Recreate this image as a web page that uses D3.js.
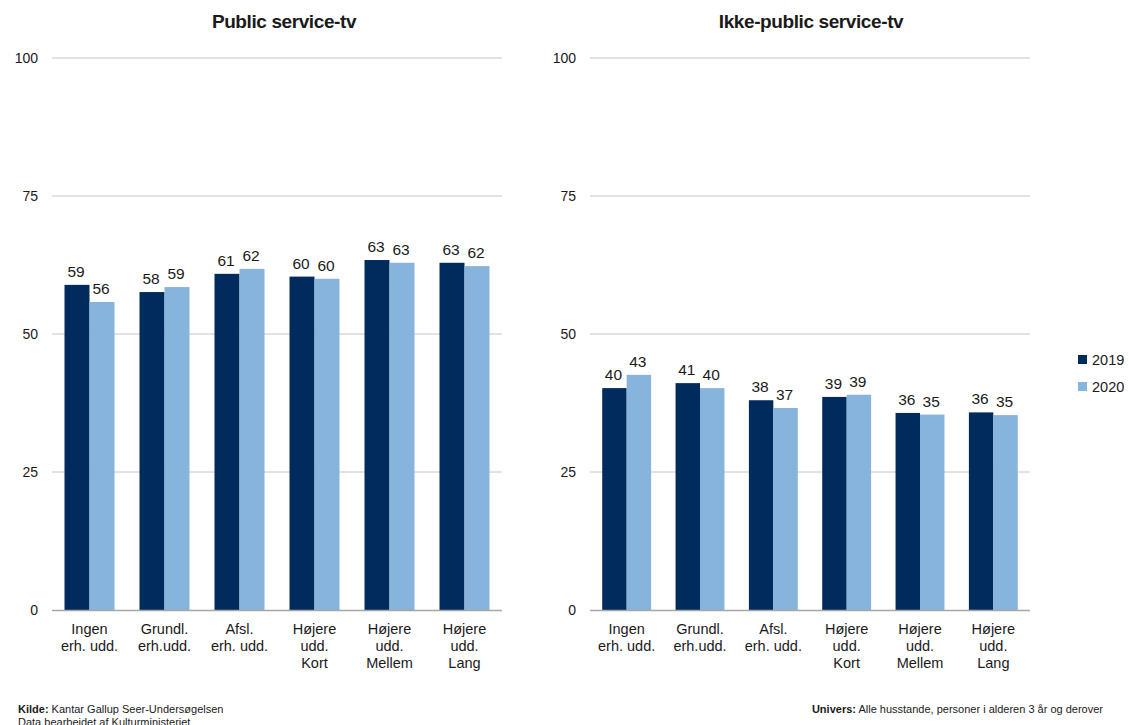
<!DOCTYPE html>
<html>
<head>
<meta charset="utf-8">
<script src="https://d3js.org/d3.v7.min.js"></script>
<style>
	body { margin: 0; background: #fff; }
	text { font-family: "Liberation Sans", Arial, sans-serif; fill: #1a1a1a; }
</style>
</head>
<body>
<svg id="chart" width="1129" height="725"></svg>
<script>
	// data
	var categories = [
		["Ingen", "erh. udd."],
		["Grundl.", "erh.udd."],
		["Afsl.", "erh. udd."],
		["Højere", "udd.", "Kort"],
		["Højere", "udd.", "Mellem"],
		["Højere", "udd.", "Lang"]
	];
	var years = ["2019", "2020"];
	var publicTv2019 = [58.9, 57.6, 60.9, 60.4, 63.4, 62.9];
	var publicTv2020 = [55.8, 58.5, 61.8, 60.0, 62.9, 62.3];
	var otherTv2019 = [40.2, 41.1, 38.0, 38.6, 35.7, 35.8];
	var otherTv2020 = [42.6, 40.2, 36.6, 39.0, 35.4, 35.3];
	var yTicks = [0, 25, 50, 75, 100];

	var colors = { "2019": "#002b5c", "2020": "#86b4dd" };
	var svg = d3.select("#chart");

	function panel(title, titleX, x0, x1, s2019, s2020) {
		var top = 58, bottom = 610;
		var y = d3.scaleLinear().domain([0, 100]).range([bottom, top]);
		var x = d3.scaleBand().domain(d3.range(categories.length))
			.range([x0, x1]).paddingInner(1 / 3).paddingOuter(1 / 6);
		var xs = d3.scaleBand().domain(years).range([0, x.bandwidth()]);
		var g = svg.append("g");

		// title
		g.append("text")
			.attr("x", titleX).attr("y", 28)
			.attr("text-anchor", "middle")
			.style("font-size", "19px").style("font-weight", "bold")
			.style("letter-spacing", "-0.4px")
			.text(title);

		// gridlines
		g.selectAll(".grid").data(yTicks.filter(function (d) { return d > 0; }))
			.enter().append("line")
			.attr("x1", x0).attr("x2", x1)
			.attr("y1", function (d) { return y(d); })
			.attr("y2", function (d) { return y(d); })
			.attr("stroke", "#c6c6c6").attr("stroke-width", 1);

		// y labels
		g.selectAll(".yl").data(yTicks).enter().append("text")
			.attr("x", x0 - 14).attr("y", function (d) { return y(d) + 5; })
			.attr("text-anchor", "end")
			.style("font-size", "14px")
			.text(function (d) { return d; });

		var rows = [];
		categories.forEach(function (c, i) {
			rows.push({ i: i, year: "2019", v: s2019[i] });
			rows.push({ i: i, year: "2020", v: s2020[i] });
		});

		g.selectAll(".bar").data(rows).enter().append("rect")
			.attr("x", function (d) { return x(d.i) + xs(d.year); })
			.attr("width", xs.bandwidth())
			.attr("y", function (d) { return y(d.v); })
			.attr("height", function (d) { return y(0) - y(d.v); })
			.attr("fill", function (d) { return colors[d.year]; });

		g.selectAll(".lbl").data(rows).enter().append("text")
			.attr("x", function (d) { return x(d.i) + xs(d.year) + xs.bandwidth() / 2 - 1; })
			.attr("y", function (d) { return y(d.v) - 8; })
			.attr("text-anchor", "middle")
			.style("font-size", "15.5px")
			.text(function (d) { return Math.round(d.v); });

		// baseline
		g.append("line")
			.attr("x1", x0).attr("x2", x1)
			.attr("y1", y(0) + 0.5).attr("y2", y(0) + 0.5)
			.attr("stroke", "#a6a6a6").attr("stroke-width", 1.5);

		// category labels
		categories.forEach(function (c, i) {
			var t = g.append("text")
				.attr("x", x(i) + x.bandwidth() / 2)
				.attr("y", y(0) + 24)
				.attr("text-anchor", "middle")
				.style("font-size", "14.5px");
			c.forEach(function (line, k) {
				t.append("tspan")
					.attr("x", x(i) + x.bandwidth() / 2)
					.attr("dy", k === 0 ? 0 : 17)
					.text(line);
			});
		});
	}

	panel("Public service-tv", 284, 52, 502, publicTv2019, publicTv2020);
	panel("Ikke-public service-tv", 811, 590, 1030, otherTv2019, otherTv2020);

	// legend
	var leg = svg.append("g");
	years.forEach(function (yr, k) {
		leg.append("rect").attr("x", 1078).attr("y", 355 + k * 27)
			.attr("width", 9).attr("height", 9).attr("fill", colors[yr]);
		leg.append("text").attr("x", 1092).attr("y", 365 + k * 27)
			.style("font-size", "14.5px").text(yr);
	});

	// footer
	var f1 = svg.append("text").attr("x", 18).attr("y", 713).style("font-size", "11px");
	f1.append("tspan").style("font-weight", "bold").text("Kilde:");
	f1.append("tspan").text(" Kantar Gallup Seer-Undersøgelsen");
	svg.append("text").attr("x", 18).attr("y", 726).style("font-size", "11px")
		.text("Data bearbejdet af Kulturministeriet");
	var f2 = svg.append("text").attr("x", 1103).attr("y", 713)
		.attr("text-anchor", "end").style("font-size", "11px");
	f2.append("tspan").style("font-weight", "bold").text("Univers:");
	f2.append("tspan").text(" Alle husstande, personer i alderen 3 år og derover");
</script>
</body>
</html>
